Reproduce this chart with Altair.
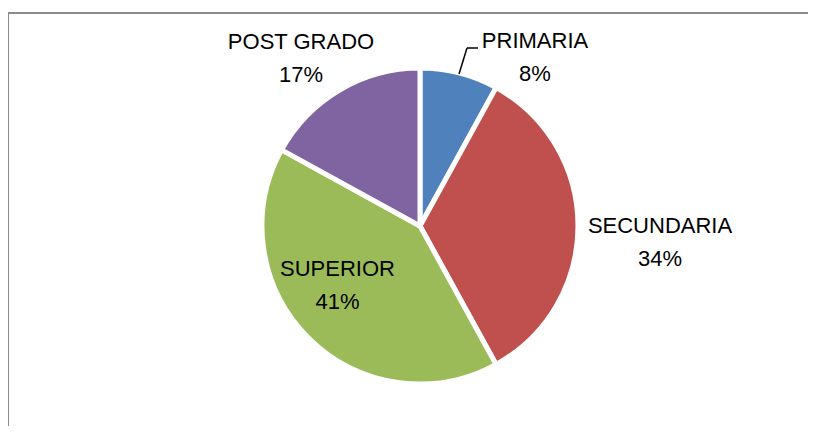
import altair as alt
import pandas as pd

categories = ["PRIMARIA", "SECUNDARIA", "SUPERIOR", "POST GRADO"]
percent = [8, 34, 41, 17]
colors = ["#4F81BD", "#C0504D", "#9BBB59", "#8064A2"]

# label anchors in chart pixels (center x, first-line baseline y)
label_x = [527, 652, 329.5, 293]
label_y = [40, 225, 268, 41]

W, H = 800, 418
CX, CY, R = 412, 218, 158
LINE = 33

df = pd.DataFrame({
    "cat": categories,
    "pct": percent,
    "order": list(range(len(categories))),
    "lx": label_x,
    "ly": label_y,
})
df["pct_label"] = df["pct"].astype(str) + "%"
df["ly2"] = df["ly"] + LINE

pie = alt.Chart(df).mark_arc(outerRadius=R, stroke="white", strokeWidth=5).encode(
    theta=alt.Theta("pct:Q", stack=True),
    order=alt.Order("order:Q"),
    color=alt.Color("cat:N", scale=alt.Scale(domain=categories, range=colors), legend=None),
    x=alt.value(CX),
    y=alt.value(CY),
)

txt_style = dict(font="Liberation Sans", fontSize=22, color="#000000", align="center", baseline="alphabetic")

names = alt.Chart(df).mark_text(**txt_style).encode(
    x=alt.X("lx:Q", scale=None, axis=None),
    y=alt.Y("ly:Q", scale=None, axis=None),
    text="cat:N",
)
pcts = alt.Chart(df).mark_text(**txt_style).encode(
    x=alt.X("lx:Q", scale=None, axis=None),
    y=alt.Y("ly2:Q", scale=None, axis=None),
    text="pct_label:N",
)

one = pd.DataFrame({"a": [0]})
border_top = alt.Chart(one).mark_rule(color="#8c8c8c", strokeWidth=2).encode(
    x=alt.value(0), x2=alt.value(W), y=alt.value(5)
)
border_left = alt.Chart(one).mark_rule(color="#8c8c8c", strokeWidth=2).encode(
    x=alt.value(0), y=alt.value(5), y2=alt.value(H)
)
leader_h = alt.Chart(one).mark_rule(color="#000000", strokeWidth=1.5).encode(
    x=alt.value(470), x2=alt.value(459), y=alt.value(40)
)
leader_d = alt.Chart(one).mark_rule(color="#000000", strokeWidth=1.5).encode(
    x=alt.value(459), x2=alt.value(451), y=alt.value(40), y2=alt.value(66)
)

chart = alt.layer(border_top, border_left, pie, leader_h, leader_d, names, pcts).properties(
    width=W, height=H, autosize=alt.AutoSizeParams(type="none"), padding=0
).configure_view(stroke=None)

chart.save("out.html", embed_options={"renderer": "svg", "actions": False})
